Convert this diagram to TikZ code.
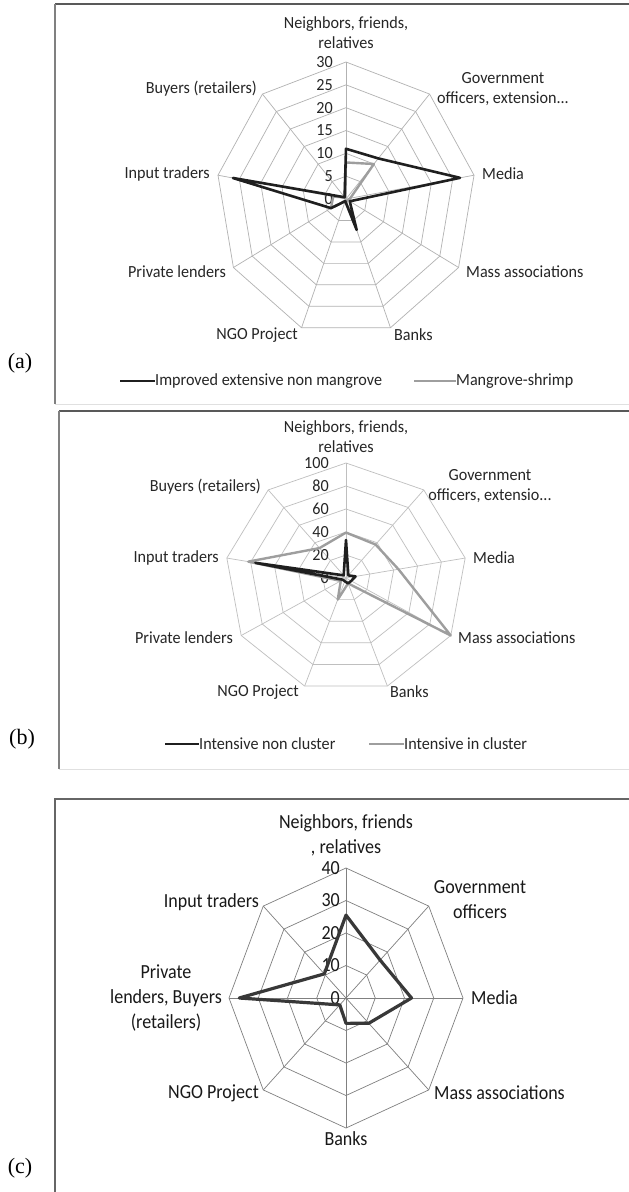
\documentclass[tikz,border=0pt]{standalone}
\usepackage{fontspec}
\setmainfont{Liberation Serif}
\newfontfamily\chartfont[FakeStretch=0.95]{Carlito}
\newfontfamily\chartfontc[FakeStretch=0.9]{Carlito}

% web of a radar chart: #1 Rx, #2 Ry, #3 number of axes, #4 number of rings, #5 style
\newcommand\webgrid[5]{%
  \pgfmathtruncatemacro\nsamp{#3+1}%
  \foreach \j in {1,...,#4}{%
    \draw[#5] plot[samples=\nsamp, domain=0:#3] ({#1*\j/#4*cos(90-360/#3*\x)}, {-#2*\j/#4*sin(90-360/#3*\x)}) -- cycle;
  }%
  \foreach \k in {1,...,#3}{%
    \draw[#5] (0,0) -- ({#1*cos(90-360/#3*\k)}, {-#2*sin(90-360/#3*\k)});
  }%
}
% data points of one series: #1 name, #2 Rx, #3 Ry, #4 axes, #5 max value, #6 values
\newcommand\series[6]{%
  \foreach \v [count=\k from 0] in {#6}{%
    \coordinate (#1-\k) at ({#2*\v/#5*cos(90-360/#4*\k)}, {-#3*\v/#5*sin(90-360/#4*\k)});
  }%
}

\begin{document}
\begin{tikzpicture}[x=1pt,y=-1pt,
  txta/.style={font=\chartfont\fontsize{17}{20}\selectfont, text=black!85, inner sep=0pt, align=center},
  txtc/.style={font=\chartfontc\fontsize{20}{25}\selectfont, text=black!90, inner sep=0pt, align=center},
  panel/.style={font=\fontsize{22}{22}\selectfont, inner sep=0pt},
  weba/.style={draw=black!30, line width=0.7pt},
  webb/.style={draw=black!25, line width=0.7pt},
  webc/.style={draw=black!50, line width=0.7pt},
  darkser/.style={draw=black!88, line width=2.6pt, line join=round},
  lightser/.style={draw=black!38, line width=2.4pt, line join=round},
  serc/.style={draw=black!78, line width=3.2pt, line join=round},
  frametop/.style={draw=black!65, line width=1.8pt},
  frameside/.style={draw=black!50, line width=1.2pt},
  framebot/.style={draw=black!12, line width=1pt}]
\useasboundingbox (0,0) rectangle (629,1192);
\fill[white] (0,0) rectangle (629,1192);

% ---------------- panel (a) ----------------
\draw[frametop] (55,4) -- (629,4);
\draw[frameside] (55,4) -- (55,404);
\draw[framebot] (55,404) -- (629,404);
\node[panel] (pa) at (20,363) {(a)};
\begin{scope}[shift={(346,199)}]
  \webgrid{130}{137}{9}{6}{weba}
  \foreach \j/\t in {0/0,1/5,2/10,3/15,4/20,5/25,6/30}
    \node[txta, anchor=east] (ta\j) at (-13,{-137*\j/6}) {\t};
  \series{ia}{130}{137}{9}{30}{11,11.6,26.7,1,7.2,0.5,4,26.5,0.5}
  \series{ma}{130}{137}{9}{30}{8,10,1,0.5,0.5,0.5,4,3,0.5}
  \draw[lightser] (ma-0) \foreach \k in {1,...,8}{ -- (ma-\k)} -- cycle;
  \draw[darkser] (ia-0) \foreach \k in {1,...,8}{ -- (ia-\k)} -- cycle;
\end{scope}
\node[txta, anchor=center] (a-nb) at (346,33) {Neighbors, friends,\\relatives};
\node[txta, anchor=center] (a-gov) at (503,89) {Government\\officers, extension...};
\node[txta, anchor=west] (a-med) at (482,174) {Media};
\node[txta, anchor=west] (a-mass) at (466,272) {Mass associations};
\node[txta, anchor=west] (a-bank) at (394,335) {Banks};
\node[txta, anchor=east] (a-ngo) at (298,335) {NGO Project};
\node[txta, anchor=east] (a-pl) at (226,272) {Private lenders};
\node[txta, anchor=east] (a-it) at (210,174) {Input traders};
\node[txta, anchor=east] (a-buy) at (257,89) {Buyers (retailers)};
% legend
\coordinate (la1) at (120,381); \coordinate (la2) at (155,381);
\draw[draw=black!88, line width=2.4pt] (la1) -- (la2);
\node[txta, anchor=west] (la-t1) at (la2) {Improved extensive non mangrove};
\coordinate (la3) at (414,381); \coordinate (la4) at (456,381);
\draw[draw=black!38, line width=2.2pt] (la3) -- (la4);
\node[txta, anchor=west] (la-t2) at (la4) {Mangrove-shrimp};

% ---------------- panel (b) ----------------
\draw[frametop] (59,411) -- (629,411);
\draw[frameside] (59,411) -- (59,769);
\draw[framebot] (59,769) -- (629,769);
\node[panel] (pb) at (22,739) {(b)};
\begin{scope}[shift={(346,578)}]
  \webgrid{121}{115}{9}{5}{webb}
  \foreach \j/\t in {0/0,1/20,2/40,3/60,4/80,5/100}
    \node[txta, anchor=east] (tb\j) at (-17,{-115*\j/5}) {\t};
  \series{nc}{121}{115}{9}{100}{4,3,3,5,5,3,3,76,3}
  \series{ic}{121}{115}{9}{100}{39.5,38,44,100,5,20,5,82,34}
  \draw[lightser] (ic-0) \foreach \k in {1,...,8}{ -- (ic-\k)} -- cycle;
  \series{nc}{121}{115}{9}{100}{33,3,8,5,5,3,3,76,3}
  \draw[darkser] (nc-0) \foreach \k in {1,...,8}{ -- (nc-\k)} -- cycle;
\end{scope}
\node[txta, anchor=center, text depth=0pt] (b-nb) at (346,437) {Neighbors, friends,\\relatives};
\node[txta, anchor=center] (b-gov) at (490,486) {Government\\officers, extensio...};
\node[txta, anchor=west] (b-med) at (473,558) {Media};
\node[txta, anchor=west] (b-mass) at (458,638) {Mass associations};
\node[txta, anchor=west] (b-bank) at (390,692) {Banks};
\node[txta, anchor=east] (b-ngo) at (299,692) {NGO Project};
\node[txta, anchor=east] (b-pl) at (233,638) {Private lenders};
\node[txta, anchor=east] (b-it) at (219,558) {Input traders};
\node[txta, anchor=east] (b-buy) at (261,487) {Buyers (retailers)};
% legend
\coordinate (lb1) at (165,744); \coordinate (lb2) at (199,744);
\draw[draw=black!88, line width=2.4pt] (lb1) -- (lb2);
\node[txta, anchor=west] (lb-t1) at (lb2) {Intensive non cluster};
\coordinate (lb3) at (369,744); \coordinate (lb4) at (404,744);
\draw[draw=black!38, line width=2.2pt] (lb3) -- (lb4);
\node[txta, anchor=west] (lb-t2) at (lb4) {Intensive in cluster};

% ---------------- panel (c) ----------------
\draw[draw=black!60, line width=1.4pt] (55,1192) -- (55,799) -- (629,799);
\node[panel] (pc) at (20,1168) {(c)};
\begin{scope}[shift={(346,998)}]
  \webgrid{117}{130}{8}{4}{webc}
  \foreach \j/\t in {0/0,1/10,2/20,3/30,4/40}
    \node[txtc, anchor=east] (tc\j) at (-6,{-130*\j/4}) {\t};
  \series{fc}{117}{130}{8}{40}{25.5,16.5,22.4,11,7.8,3,36.5,10.5}
  \draw[serc] (fc-0) \foreach \k in {1,...,7}{ -- (fc-\k)} -- cycle;
\end{scope}
\node[txtc, anchor=center] (c-nb) at (346,835) {Neighbors, friends\\, relatives};
\node[txtc, anchor=center] (c-gov) at (480,900) {Government\\officers};
\node[txtc, anchor=west] (c-med) at (471,998) {Media};
\node[txtc, anchor=west] (c-mass) at (434,1093) {Mass associations};
\node[txtc, anchor=center] (c-bank) at (346,1139) {Banks};
\node[txtc, anchor=east] (c-ngo) at (259,1093) {NGO Project};
\node[txtc, anchor=center] (c-pl) at (166,998) {Private\\lenders, Buyers\\(retailers)};
\node[txtc, anchor=east] (c-it) at (259,902) {Input traders};
\end{tikzpicture}
\end{document}
